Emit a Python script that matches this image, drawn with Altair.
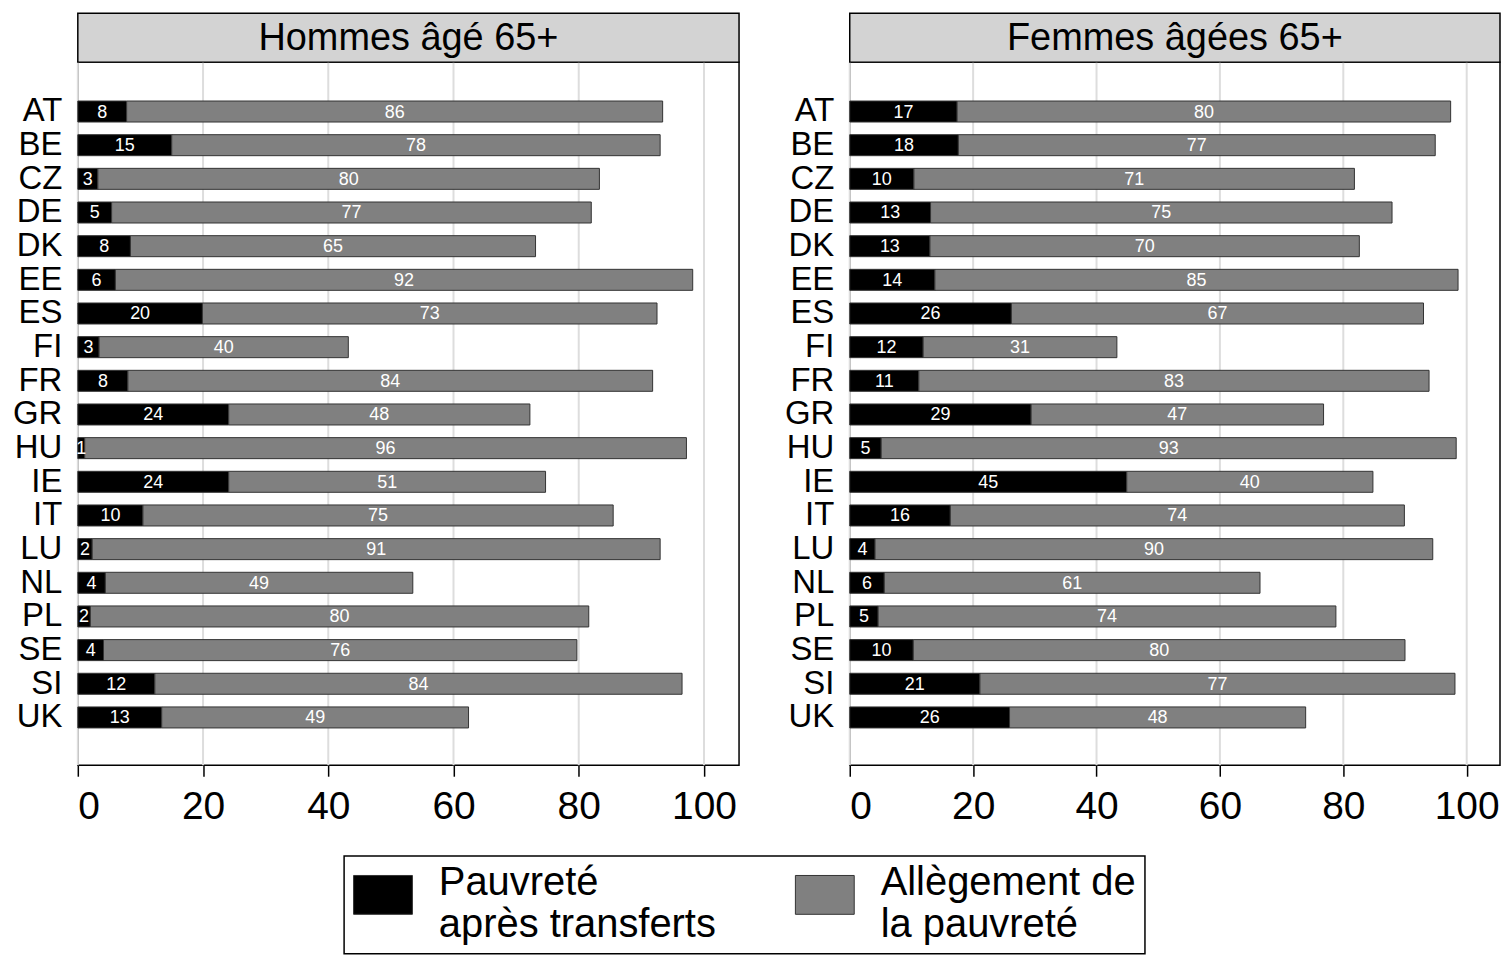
import altair as alt
import pandas as pd

countries = ["AT", "BE", "CZ", "DE", "DK", "EE", "ES", "FI", "FR", "GR",
             "HU", "IE", "IT", "LU", "NL", "PL", "SE", "SI", "UK"]

components = ["Pauvreté après transferts", "Allègement de la pauvreté"]
component_lines = [["Pauvreté", "après transferts"], ["Allègement de", "la pauvreté"]]
component_colors = ["#000000", "#808080"]

panel_titles = ["Hommes âgé 65+", "Femmes âgées 65+"]

men_after = [7.8, 15.0, 3.2, 5.4, 8.4, 6.0, 19.9, 3.4, 8.0, 24.1,
             1.1, 24.1, 10.4, 2.3, 4.4, 2.0, 4.1, 12.3, 13.4]
men_relief = [85.6, 78.0, 80.1, 76.6, 64.7, 92.2, 72.6, 39.8, 83.8, 48.1,
              96.1, 50.6, 75.1, 90.7, 49.1, 79.6, 75.6, 84.2, 49.0]

women_after = [17.4, 17.6, 10.4, 13.1, 13.0, 13.8, 26.2, 11.9, 11.2, 29.4,
               5.1, 44.9, 16.3, 4.1, 5.6, 4.6, 10.3, 21.1, 25.9]
women_relief = [80.0, 77.3, 71.4, 74.8, 69.6, 84.8, 66.8, 31.4, 82.7, 47.4,
                93.2, 39.9, 73.6, 90.4, 60.9, 74.2, 79.7, 77.0, 48.0]

tick_values = [0, 20, 40, 60, 80, 100]

FONT = "Liberation Sans"


def long_df(after, relief):
    rows = []
    for c, a, r in zip(countries, after, relief):
        rows.append({"country": c, "component": components[0], "order": 0, "value": a})
        rows.append({"country": c, "component": components[1], "order": 1, "value": r})
    return pd.DataFrame(rows)


label_expr = "datum.label == '%s' ? ['%s', '%s'] : ['%s', '%s']" % (
    components[0], component_lines[0][0], component_lines[0][1],
    component_lines[1][0], component_lines[1][1])

SYM = "M-1,-0.66L1,-0.66L1,0.66L-1,0.66Z"


def panel(df, title, w, xmax, h=705, header_h=49):
    base = alt.Chart(df)
    xscale = alt.Scale(domain=[0, xmax], nice=False, zero=True)
    yscale = alt.Scale(paddingInner=0.376, paddingOuter=0, range=[39, 667.6])
    yaxis = alt.Axis(title=None, ticks=False, domain=False, labelFontSize=33,
                     labelFont=FONT, labelColor="black", labelPadding=16,
                     minExtent=62, maxExtent=62, grid=False)
    xaxis = alt.Axis(title=None, values=tick_values, grid=False, domain=False,
                     ticks=True, tickColor="black", tickWidth=1.5, tickSize=11,
                     labelFontSize=39, labelFont=FONT, labelColor="black",
                     labelPadding=11, format="d")
    grid = alt.Chart(pd.DataFrame({"tick": tick_values})).mark_rule(
        color="#dddddd", strokeWidth=2).encode(
        x=alt.X("tick:Q", scale=xscale, axis=xaxis))
    bars = base.mark_bar(stroke="#333333", strokeWidth=1).encode(
        x=alt.X("value:Q", stack="zero", scale=xscale, axis=xaxis),
        y=alt.Y("country:N", sort=countries, scale=yscale, axis=yaxis),
        color=alt.Color(
            "component:N",
            scale=alt.Scale(domain=components, range=component_colors),
            legend=alt.Legend(
                title=None, orient="none", legendX=267, legendY=796,
                direction="horizontal", columns=2, strokeColor="black",
                fillColor="white", padding=9,
                symbolType=SYM, symbolSize=3481, symbolStrokeColor="#333333",
                symbolStrokeWidth=1, labelFontSize=40, labelFont=FONT,
                labelColor="black", labelLimit=0, labelOffset=26,
                labelBaseline="alphabetic",
                columnPadding=77, labelExpr=label_expr),
        ),
        order=alt.Order("order:Q"),
    )
    labels = base.transform_stack(
        stack="value", groupby=["country"], as_=["v0", "v1"],
        sort=[alt.SortField("order")]
    ).transform_calculate(
        mid="(datum.v0 + datum.v1) / 2"
    ).mark_text(color="white", fontSize=18, font=FONT, baseline="middle", dy=1).encode(
        x=alt.X("mid:Q", scale=xscale, axis=xaxis),
        y=alt.Y("country:N", sort=countries, scale=yscale, axis=yaxis),
        text=alt.Text("value:Q", format=".0f"),
    )
    hdf = pd.DataFrame({"title": [title]})
    hrect = alt.Chart(hdf).mark_rect(fill="#d3d3d3", stroke="black", strokeWidth=1.5).encode(
        x=alt.value(0), x2=alt.value(w), y=alt.value(-header_h), y2=alt.value(0))
    htext = alt.Chart(hdf).mark_text(fontSize=38, font=FONT, color="black",
                                     baseline="middle", align="center").encode(
        x=alt.value(w / 2), y=alt.value(-header_h / 2 + 1), text="title:N")
    return alt.layer(grid, bars, labels, hrect, htext).properties(width=w, height=h)


left = panel(long_df(men_after, men_relief), panel_titles[0], 663, 105.6)
right = panel(long_df(women_after, women_relief), panel_titles[1], 652, 105.4)

chart = alt.hconcat(left, right, spacing=42).resolve_scale(
    color="shared"
).properties(
    padding={"left": 3, "top": 2, "right": 0, "bottom": 0}
).configure(font=FONT).configure_view(
    stroke="black", strokeWidth=1.5, fill="white"
).configure_legend(strokeWidth=1.5)

chart.save("out.html", embed_options={"renderer": "svg", "actions": False})
